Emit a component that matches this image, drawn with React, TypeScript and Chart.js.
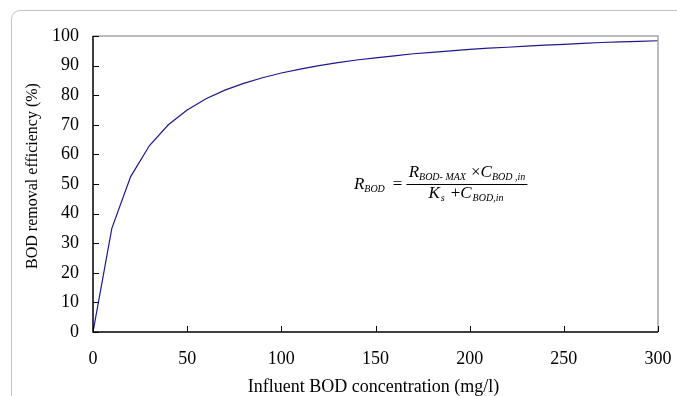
import React, { useEffect, useRef } from "react";
import { Chart, registerables } from "chart.js";

Chart.register(...registerables);

const concentrations = [0, 10, 20, 30, 40, 50, 60, 70, 80, 90, 100, 110, 120, 130, 140, 150, 160, 170, 180, 190, 200, 210, 220, 230, 240, 250, 260, 270, 280, 290, 300];
const efficiency = [0, 35.0, 52.5, 63.0, 70.0, 75.0, 78.8, 81.7, 84.0, 85.9, 87.5, 88.8, 90.0, 91.0, 91.9, 92.6, 93.3, 94.0, 94.5, 95.0, 95.5, 95.9, 96.2, 96.6, 96.9, 97.2, 97.5, 97.8, 98.0, 98.2, 98.4];
const xTicks = [0, 50, 100, 150, 200, 250, 300];
const yTicks = [0, 10, 20, 30, 40, 50, 60, 70, 80, 90, 100];
const xTitle = "Influent BOD concentration (mg/l)";
const yTitle = "BOD removal efficiency (%)";
const eqAnchor = { x: 138, y: 50 };

const SERIF = "'Liberation Serif', 'Times New Roman', serif";

type Run = { t: string; f: string; dy?: number; pre?: number };

function runsWidth(ctx: CanvasRenderingContext2D, runs: Run[]) {
  let w = 0;
  for (const r of runs) {
    ctx.font = r.f;
    w += (r.pre || 0) + ctx.measureText(r.t).width;
  }
  return w;
}
function drawRuns(ctx: CanvasRenderingContext2D, x: number, y: number, runs: Run[]) {
  let cx = x;
  for (const r of runs) {
    ctx.font = r.f;
    cx += r.pre || 0;
    ctx.fillText(r.t, cx, y + (r.dy || 0));
    cx += ctx.measureText(r.t).width;
  }
  return cx;
}

const framePlugin = {
  id: "framePlugin",
  afterDraw(chart: any) {
    const ctx: CanvasRenderingContext2D = chart.ctx;
    const { left, right, top, bottom } = chart.chartArea;
    const xs = chart.scales.x;
    const ys = chart.scales.y;
    ctx.save();
    // top and right borders (gray)
    ctx.strokeStyle = "#a6a6a6";
    ctx.lineWidth = 1.5;
    ctx.beginPath();
    ctx.moveTo(left, top);
    ctx.lineTo(right, top);
    ctx.lineTo(right, bottom);
    ctx.stroke();
    // inward ticks
    ctx.strokeStyle = "#000";
    ctx.lineWidth = 1;
    ctx.beginPath();
    for (const v of xTicks) {
      const px = Math.round(xs.getPixelForValue(v)) + 0.5;
      ctx.moveTo(px, bottom);
      ctx.lineTo(px, bottom - 6);
    }
    for (const v of yTicks) {
      const py = Math.round(ys.getPixelForValue(v)) + 0.5;
      ctx.moveTo(left, py);
      ctx.lineTo(left + 6, py);
    }
    ctx.stroke();
    // axes lines black
    ctx.lineWidth = 1.5;
    ctx.beginPath();
    ctx.moveTo(left, top);
    ctx.lineTo(left, bottom);
    ctx.lineTo(right, bottom);
    ctx.stroke();

    ctx.fillStyle = "#000";
    // x title
    ctx.font = `18px ${SERIF}`;
    ctx.textAlign = "center";
    ctx.textBaseline = "middle";
    ctx.fillText(xTitle, (left + right) / 2 - 2, 387);
    // y title
    ctx.save();
    ctx.translate(33, (top + bottom) / 2 - 8);
    ctx.rotate(-Math.PI / 2);
    ctx.font = `16px ${SERIF}`;
    ctx.textAlign = "center";
    ctx.textBaseline = "middle";
    ctx.fillText(yTitle, 0, 0);
    ctx.restore();

    // equation
    const ax = xs.getPixelForValue(eqAnchor.x);
    const ay = ys.getPixelForValue(eqAnchor.y);
    ctx.textBaseline = "alphabetic";
    ctx.textAlign = "left";
    const big = `italic 17px ${SERIF}`;
    const reg = `17px ${SERIF}`;
    const sub = `italic 10px ${SERIF}`;
    const lhs: Run[] = [
      { t: "R", f: big },
      { t: "BOD", f: sub, dy: 3 },
      { t: "=", f: reg, pre: 8 },
    ];
    const endL = drawRuns(ctx, ax + 1, ay + 5, lhs);
    const lineL = endL + 4;
    const lineR = lineL + 121;
    ctx.lineWidth = 1;
    ctx.beginPath();
    ctx.moveTo(lineL, Math.round(ay) + 0.5);
    ctx.lineTo(lineR, Math.round(ay) + 0.5);
    ctx.stroke();
    const num: Run[] = [
      { t: "R", f: big },
      { t: "BOD- MAX", f: sub, dy: 3 },
      { t: "×", f: reg, pre: 5 },
      { t: "C", f: big },
      { t: "BOD ,in", f: sub, dy: 3 },
    ];
    const den: Run[] = [
      { t: "K", f: big },
      { t: "s", f: sub, dy: 3, pre: 1 },
      { t: "+", f: reg, pre: 6 },
      { t: "C", f: big },
      { t: "BOD,in", f: sub, dy: 3, pre: 1 },
    ];
    const mid = (lineL + lineR) / 2;
    const nw = runsWidth(ctx, num);
    drawRuns(ctx, mid - nw / 2, ay - 7, num);
    const dw = runsWidth(ctx, den);
    drawRuns(ctx, mid - dw / 2 - 1, ay + 14, den);
    ctx.restore();
  },
};

export default function App() {
  const ref = useRef<HTMLCanvasElement>(null);
  useEffect(() => {
    if (!ref.current) return;
    const chart = new Chart(ref.current, {
      type: "line",
      data: {
        datasets: [
          {
            data: concentrations.map((c, i) => ({ x: c, y: efficiency[i] })),
            borderColor: "#1a1a8c",
            borderWidth: 1.2,
            pointRadius: 0,
            tension: 0,
            fill: false,
          },
        ],
      },
      options: {
        animation: false,
        responsive: false,
        maintainAspectRatio: false,
        layout: { padding: { left: 24, right: 19, top: 36, bottom: 0 } },
        plugins: { legend: { display: false }, tooltip: { enabled: false } },
        scales: {
          x: {
            type: "linear",
            min: 0,
            max: 300,
            afterBuildTicks: (s: any) => {
              s.ticks = xTicks.map((v) => ({ value: v }));
            },
            afterFit: (s: any) => {
              s.height = 64;
              s.paddingLeft = 0;
              s.paddingRight = 0;
            },
            grid: { display: false, drawTicks: false },
            border: { display: false },
            ticks: { color: "#000", padding: 16, font: { family: SERIF, size: 18 }, maxRotation: 0 },
            title: { display: false },
          },
          y: {
            type: "linear",
            min: 0,
            max: 100,
            afterBuildTicks: (s: any) => {
              s.ticks = yTicks.map((v) => ({ value: v }));
            },
            afterFit: (s: any) => {
              s.width = 69;
              s.paddingTop = 0;
              s.paddingBottom = 0;
            },
            grid: { display: false, drawTicks: false },
            border: { display: false },
            ticks: { color: "#000", padding: 14, font: { family: SERIF, size: 18 } },
            title: { display: false },
          },
        },
      },
      plugins: [framePlugin],
    });
    return () => chart.destroy();
  }, []);
  return (
    <div style={{ position: "fixed", left: 0, top: 0, width: 677, height: 396, background: "#fff", overflow: "hidden" }}>
      <div
        style={{
          position: "absolute",
          left: 11,
          top: 10,
          width: 720,
          height: 420,
          border: "1.5px solid #c4c4c4",
          borderRadius: 9,
          boxSizing: "border-box",
        }}
      />
      <canvas ref={ref} width={677} height={396} style={{ position: "absolute", left: 0, top: 0, width: 677, height: 396 }} />
    </div>
  );
}
